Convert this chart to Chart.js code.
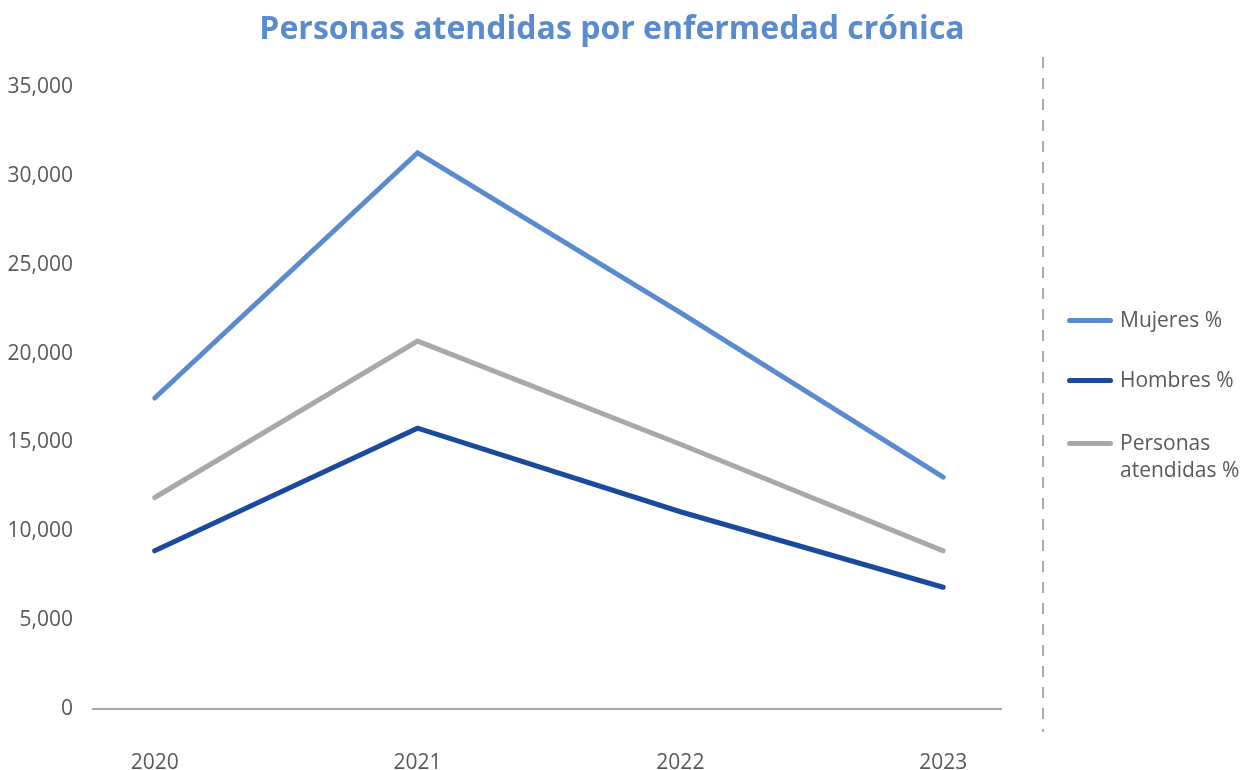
<!DOCTYPE html>
<html>
<head>
<meta charset="utf-8">
<script src="https://cdn.jsdelivr.net/npm/chart.js@4.4.1/dist/chart.umd.min.js"></script>
<style>
  html, body { margin: 0; padding: 0; background: #fff; }
  #wrap { position: relative; width: 1250px; height: 770px; font-family: "Open Sans", sans-serif; }
  #title {
    position: absolute; left: 0; width: 1224px; top: 4px; text-align: center;
    font-size: 32px; font-weight: bold; color: #5B8BCF; line-height: 46px;
  }
  #divider {
    position: absolute; left: 1042px; top: 57px; height: 675px; width: 2px;
    background: repeating-linear-gradient(to bottom, #ABABAB 0, #ABABAB 11px, transparent 11px, transparent 21px);
  }
  #legend { position: absolute; left: 1067px; top: 0; color: #595959; font-size: 21px; }
  .item { position: absolute; left: 0; white-space: nowrap; }
  .swatch { position: absolute; left: 0; width: 46px; height: 5px; border-radius: 3px; }
  .label { position: absolute; left: 53px; line-height: 27px; }
</style>
</head>
<body>
<div id="wrap">
  <canvas id="lineChart" width="1250" height="770"></canvas>
  <div id="title">Personas atendidas por enfermedad crónica</div>
  <div id="divider"></div>
  <div id="legend"></div>
</div>
<script>
const years = ['2020', '2021', '2022', '2023'];
const mujeres = [17500, 31300, 22300, 13050];
const hombres = [8900, 15800, 11100, 6850];
const personas = [11900, 20700, 14900, 8900];
const yTicks = [0, 5000, 10000, 15000, 20000, 25000, 30000, 35000];

const seriesNames = ['Mujeres %', 'Hombres %', 'Personas atendidas %'];
const seriesColors = ['#5B8BCF', '#1A4A9E', '#A7A9A9'];

function toPoints(values) {
    return values.map((v, i) => ({ x: Number(years[i]), y: v }));
}

const chartData = {
    datasets: [mujeres, hombres, personas].map((values, i) => ({
        label: seriesNames[i],
        data: toPoints(values),
        borderColor: seriesColors[i],
        backgroundColor: seriesColors[i],
        borderWidth: 5,
        borderCapStyle: 'round',
        pointRadius: 0,
        tension: 0,
    })),
};

const ctx = document.getElementById('lineChart').getContext('2d');
const lineChart = new Chart(ctx, {
    type: 'line',
    data: chartData,
    options: {
        responsive: false,
        animation: false,
        layout: {
            padding: { left: 0, right: 249, top: 87, bottom: 0 },
        },
        plugins: {
            legend: { display: false },
            title: { display: false },
            tooltip: { enabled: false },
        },
        scales: {
            x: {
                type: 'linear',
                min: 2019.765,
                max: 2023.22,
                grid: { display: false },
                border: { display: true, color: '#A6A6A6', width: 2 },
                afterFit: (scale) => { scale.height = 61; },
                afterBuildTicks: (scale) => {
                    scale.ticks = years.map((y) => ({ value: Number(y) }));
                },
                ticks: {
                    padding: 36,
                    color: '#595959',
                    font: { family: 'Open Sans', size: 21, lineHeight: 1 },
                    callback: (value) => String(value),
                },
            },
            y: {
                min: 0,
                max: 35000,
                grid: { display: false, drawTicks: false },
                border: { display: false },
                afterFit: (scale) => { scale.width = 93; },
                afterBuildTicks: (scale) => {
                    scale.ticks = yTicks.map((v) => ({ value: v }));
                },
                ticks: {
                    padding: 20,
                    color: '#595959',
                    font: { family: 'Open Sans', size: 21 },
                    callback: (value) => value.toLocaleString('en-US'),
                },
            },
        },
    },
});

// legend at the right, beside the dashed divider
const legendTops = [320, 380, 443];
const legend = document.getElementById('legend');
seriesNames.forEach((name, i) => {
    const item = document.createElement('div');
    item.className = 'item';
    item.style.top = (legendTops[i] - 2) + 'px';
    const sw = document.createElement('div');
    sw.className = 'swatch';
    sw.style.background = seriesColors[i];
    const lab = document.createElement('div');
    lab.className = 'label';
    lab.style.top = '-12px';
    lab.innerHTML = name === 'Personas atendidas %' ? 'Personas<br>atendidas %' : name;
    item.appendChild(sw);
    item.appendChild(lab);
    legend.appendChild(item);
});
</script>
</body>
</html>
